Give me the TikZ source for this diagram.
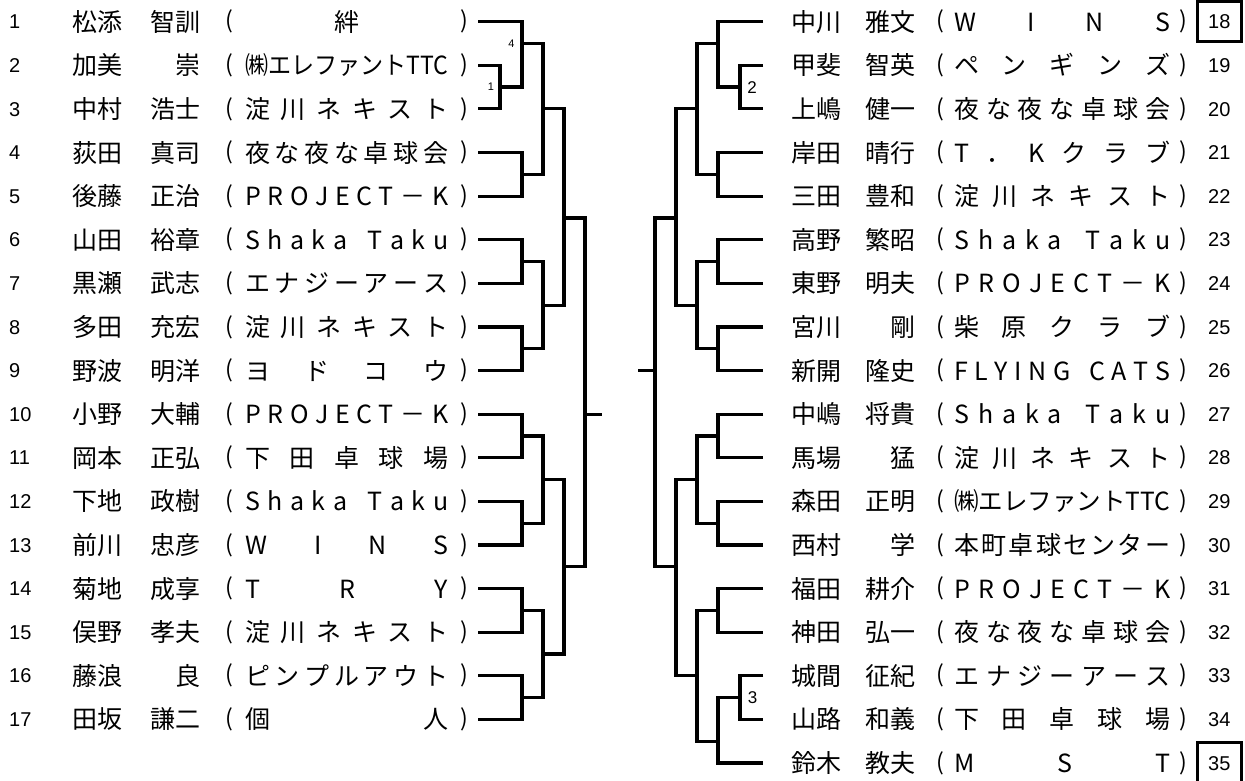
\documentclass[tikz,border=0pt]{standalone}
\usepackage{fontspec}
\usepackage{graphicx}
\setmainfont{Noto Sans CJK JP}
\newfontfamily\numfont{Liberation Sans}
\newlength\tw
\makeatletter
\def\sp@read#1{\ifx#1\relax\else\hfill#1\expandafter\sp@read\fi}
\def\sp@first#1{#1\sp@read}
\newcommand\D[1]{\makebox[\tw][s]{\sp@first#1\relax}}
\makeatother
\newcommand\C[1]{\makebox[\tw][c]{#1}}
\newcommand\Z[1]{\resizebox{\tw}{\height}{#1}}
\tikzset{
  txt/.style={font=\fontsize{25}{30}\selectfont, inner sep=0pt},
  numtxt/.style={font=\numfont\fontsize{20}{24}\selectfont, inner sep=0pt},
  paren/.style={font=\fontsize{23}{28}\selectfont, inner sep=0pt},
  smalllab/.style={font=\numfont\fontsize{11}{13}\selectfont, inner sep=0pt},
  midlab/.style={font=\numfont\fontsize{17}{20}\selectfont, inner sep=0pt},
  brline/.style={line width=3.2pt},
  boxed/.style={draw, line width=3pt, minimum width=43.5pt, minimum height=40pt, inner sep=0pt},
  declare function={ry(\k)=-(21.7+(\k-1)*43.6);}
}
\newcommand\brk[3]{\draw[brline] (#1) -| (#3) |- (#2);}
\begin{document}
\begin{tikzpicture}[x=1pt,y=1pt]
\useasboundingbox (0,0) rectangle (1245,-781);
% ---------------- left side ----------------
\setlength\tw{203pt}
\foreach \k/\s/\g/\t in {
1/松添/智訓/\C{絆},
2/加美/崇/\Z{㈱エレファントTTC},
3/中村/浩士/\D{淀川ネキスト},
4/荻田/真司/\D{夜な夜な卓球会},
5/後藤/正治/\D{PROJECT－K},
6/山田/裕章/\D{Shaka~Taku},
7/黒瀬/武志/\D{エナジーアース},
8/多田/充宏/\D{淀川ネキスト},
9/野波/明洋/\D{ヨドコウ},
10/小野/大輔/\D{PROJECT－K},
11/岡本/正弘/\D{下田卓球場},
12/下地/政樹/\D{Shaka~Taku},
13/前川/忠彦/\D{WINS},
14/菊地/成享/\D{TRY},
15/俣野/孝夫/\D{淀川ネキスト},
16/藤浪/良/\D{ピンプルアウト},
17/田坂/謙二/\D{個人}}
{
  \node[numtxt,anchor=base west] (n\k) at (9,{ry(\k)-7.2}) {\k};
  \node[txt,anchor=base west] (s\k) at (72,{ry(\k)-9.5}) {\s};
  \node[txt,anchor=base east] (g\k) at (201,{ry(\k)-9.5}) {\g};
  \node[paren] (o\k) at (229,{ry(\k)}) {(};
  \node[txt,anchor=base west] (t\k) at (245,{ry(\k)-9.5}) {\t};
  \node[paren] (c\k) at (464,{ry(\k)}) {)};
  \coordinate (L\k) at (478,{ry(\k)});
}
% junctions left
\coordinate (Ja) at (500,{ry(2.5)});
\coordinate (Jb1) at (522,{ry(1.5)});
\coordinate (Jb2) at (522,{ry(4.5)});
\coordinate (Jb3) at (522,{ry(6.5)});
\coordinate (Jb4) at (522,{ry(8.5)});
\coordinate (Jb5) at (522,{ry(10.5)});
\coordinate (Jb6) at (522,{ry(12.5)});
\coordinate (Jb7) at (522,{ry(14.5)});
\coordinate (Jb8) at (522,{ry(16.5)});
\coordinate (Jc1) at (543,{ry(3)});
\coordinate (Jc2) at (543,{ry(7.5)});
\coordinate (Jc3) at (543,{ry(11.5)});
\coordinate (Jc4) at (543,{ry(15.5)});
\coordinate (Jd1) at (564,{ry(5.5)});
\coordinate (Jd2) at (564,{ry(13.5)});
\coordinate (Je) at (585,{ry(10)});
\coordinate (F1) at (602,{ry(10)});
\brk{L2}{L3}{Ja}
\brk{L1}{Ja}{Jb1}
\brk{L4}{L5}{Jb2}
\brk{L6}{L7}{Jb3}
\brk{L8}{L9}{Jb4}
\brk{L10}{L11}{Jb5}
\brk{L12}{L13}{Jb6}
\brk{L14}{L15}{Jb7}
\brk{L16}{L17}{Jb8}
\brk{Jb1}{Jb2}{Jc1}
\brk{Jb3}{Jb4}{Jc2}
\brk{Jb5}{Jb6}{Jc3}
\brk{Jb7}{Jb8}{Jc4}
\brk{Jc1}{Jc2}{Jd1}
\brk{Jc3}{Jc4}{Jd2}
\brk{Jd1}{Jd2}{Je}
\draw[brline] (Je) -- (F1);
\node[smalllab] (m4) at (511.5,{ry(1.5)}) {4};
\node[smalllab] (m1) at (491,{ry(2.5)}) {1};
% ---------------- right side ----------------
\setlength\tw{216pt}
\foreach \r/\k/\s/\g/\t in {
1/18/中川/雅文/\D{WINS},
2/19/甲斐/智英/\D{ペンギンズ},
3/20/上嶋/健一/\D{夜な夜な卓球会},
4/21/岸田/晴行/\D{T．Kクラブ},
5/22/三田/豊和/\D{淀川ネキスト},
6/23/高野/繁昭/\D{Shaka~Taku},
7/24/東野/明夫/\D{PROJECT－K},
8/25/宮川/剛/\D{柴原クラブ},
9/26/新開/隆史/\D{FLYING~CATS},
10/27/中嶋/将貴/\D{Shaka~Taku},
11/28/馬場/猛/\D{淀川ネキスト},
12/29/森田/正明/\Z{㈱エレファントTTC},
13/30/西村/学/\D{本町卓球センター},
14/31/福田/耕介/\D{PROJECT－K},
15/32/神田/弘一/\D{夜な夜な卓球会},
16/33/城間/征紀/\D{エナジーアース},
17/34/山路/和義/\D{下田卓球場},
18/35/鈴木/教夫/\D{MST}}
{
  \coordinate (R\r) at (763,{ry(\r)});
  \node[txt,anchor=base west] (s\k) at (791,{ry(\r)-9.5}) {\s};
  \node[txt,anchor=base east] (g\k) at (916,{ry(\r)-9.5}) {\g};
  \node[paren] (o\k) at (940,{ry(\r)}) {(};
  \node[txt,anchor=base west] (t\k) at (954,{ry(\r)-9.5}) {\t};
  \node[paren] (c\k) at (1183,{ry(\r)}) {)};
  \node[numtxt,anchor=base west] (n\k) at (1208,{ry(\r)-7.2}) {\k};
}
\node[boxed] (box18) at (1219.25,{ry(1)}) {};
\node[boxed] (box35) at (1219.25,{ry(18)}) {};
% junctions right
\coordinate (JA1) at (740,{ry(2.5)});
\coordinate (JA2) at (740,{ry(16.5)});
\coordinate (JB1) at (718,{ry(1.5)});
\coordinate (JB2) at (718,{ry(4.5)});
\coordinate (JB3) at (718,{ry(6.5)});
\coordinate (JB4) at (718,{ry(8.5)});
\coordinate (JB5) at (718,{ry(10.5)});
\coordinate (JB6) at (718,{ry(12.5)});
\coordinate (JB7) at (718,{ry(14.5)});
\coordinate (JB8) at (718,{ry(17.5)});
\coordinate (JC1) at (697,{ry(3)});
\coordinate (JC2) at (697,{ry(7.5)});
\coordinate (JC3) at (697,{ry(11.5)});
\coordinate (JC4) at (697,{ry(16)});
\coordinate (JD1) at (676,{ry(5.5)});
\coordinate (JD2) at (676,{ry(13.5)});
\coordinate (JE) at (655,{ry(9)});
\coordinate (F2) at (638,{ry(9)});
\brk{R2}{R3}{JA1}
\brk{R16}{R17}{JA2}
\brk{R1}{JA1}{JB1}
\brk{R4}{R5}{JB2}
\brk{R6}{R7}{JB3}
\brk{R8}{R9}{JB4}
\brk{R10}{R11}{JB5}
\brk{R12}{R13}{JB6}
\brk{R14}{R15}{JB7}
\brk{JA2}{R18}{JB8}
\brk{JB1}{JB2}{JC1}
\brk{JB3}{JB4}{JC2}
\brk{JB5}{JB6}{JC3}
\brk{JB7}{JB8}{JC4}
\brk{JC1}{JC2}{JD1}
\brk{JC3}{JC4}{JD2}
\draw[brline] (JD1) -| (JE) |- (JD2);
\draw[brline] (JE) -- (F2);
\node[midlab] (m2) at (752,{ry(2.5)}) {2};
\node[midlab] (m3) at (752.5,{ry(16.5)}) {3};
\end{tikzpicture}
\end{document}
